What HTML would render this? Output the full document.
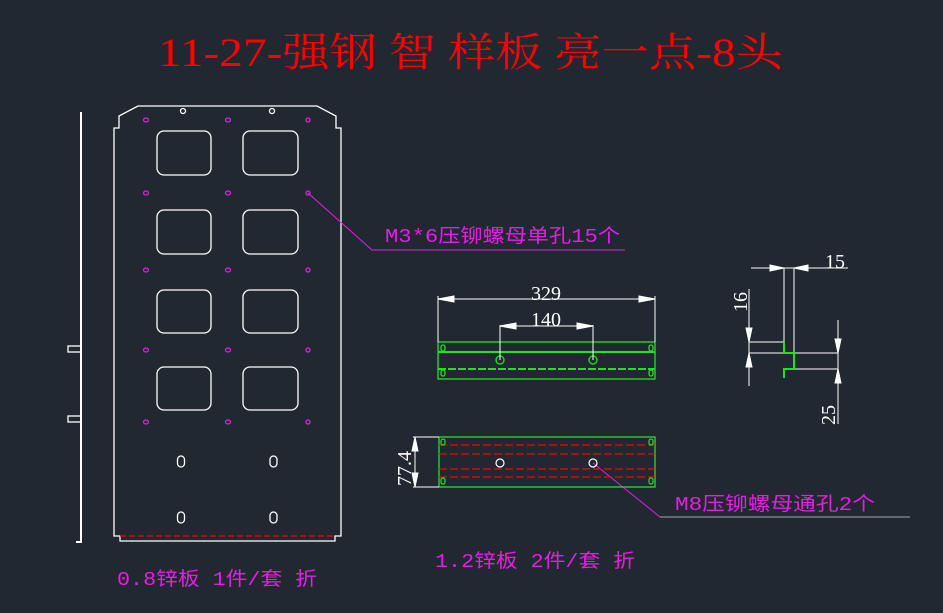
<!DOCTYPE html>
<html><head><meta charset="utf-8"><style>
html,body{margin:0;padding:0;background:#222831;}
svg{display:block}
text{font-family:"Liberation Serif","Noto Serif CJK SC",serif;}
.m{font-family:"Liberation Mono","Noto Sans CJK SC",monospace;fill:#e81ce8;font-size:19px;}
</style></head><body>
<svg width="943" height="613" viewBox="0 0 943 613" xmlns="http://www.w3.org/2000/svg">
<rect width="943" height="613" fill="#222831"/>
<text x="158" y="66" font-size="40" fill="#ff0000" textLength="625" lengthAdjust="spacingAndGlyphs">11-27-强钢 智 样板 亮一点-8头</text>

<!-- left panel -->
<g fill="none" stroke="#fff" stroke-width="1.3">
<path d="M114,536 L114,128 L119,128 L119,116 L138,106 L317,106 L336,116 L336,128 L341,128 L341,536 L335,536 L335,541 L120,541 L120,536 Z"/>
<circle cx="183" cy="111" r="2.5"/><circle cx="272" cy="111" r="2.5"/>
<rect x="157" y="131" width="54" height="44" rx="7"/><rect x="243" y="131" width="55" height="44" rx="7"/>
<rect x="157" y="210" width="54" height="44" rx="7"/><rect x="243" y="210" width="55" height="44" rx="7"/>
<rect x="157" y="290" width="54" height="43" rx="7"/><rect x="243" y="290" width="55" height="43" rx="7"/>
<rect x="157" y="367" width="54" height="43" rx="7"/><rect x="243" y="367" width="55" height="43" rx="7"/>
<rect x="177.5" y="456" width="7" height="11" rx="3.5"/><rect x="270" y="456" width="7" height="11" rx="3.5"/>
<rect x="177.5" y="512" width="7" height="11" rx="3.5"/><rect x="270" y="512" width="7" height="11" rx="3.5"/>
<path d="M81,112 L81,542 L76,542" stroke-width="2"/>
<rect x="68" y="346" width="13" height="6"/><rect x="68" y="416" width="13" height="6"/>
</g>
<line x1="120" y1="536" x2="335" y2="536" stroke="#f00" stroke-width="1.3" stroke-dasharray="6,3"/>
<g fill="none" stroke="#e81ce8" stroke-width="1.3">
<ellipse cx="146" cy="120" rx="2.5" ry="2"/><ellipse cx="228" cy="120" rx="2.5" ry="2"/><ellipse cx="308" cy="120" rx="2" ry="2"/>
<ellipse cx="146" cy="193" rx="2.5" ry="2"/><ellipse cx="228" cy="193" rx="2.5" ry="2"/><ellipse cx="308" cy="193" rx="2" ry="2"/>
<ellipse cx="146" cy="270" rx="2.5" ry="2"/><ellipse cx="228" cy="270" rx="2.5" ry="2"/><ellipse cx="308" cy="270" rx="2" ry="2"/>
<ellipse cx="146" cy="350" rx="2.5" ry="2"/><ellipse cx="228" cy="350" rx="2.5" ry="2"/><ellipse cx="308" cy="350" rx="2" ry="2"/>
<ellipse cx="146" cy="422" rx="2.5" ry="2"/><ellipse cx="228" cy="422" rx="2.5" ry="2"/><ellipse cx="308" cy="422" rx="2" ry="2"/>
<path d="M308,193 L372,250 L625,250" stroke-width="1"/>
<path d="M593,463 L660,517" stroke-width="1"/>
</g>
<line x1="660" y1="517" x2="910" y2="517" stroke="#9aa" stroke-width="1"/>
<text class="m" x="385" y="242" textLength="235" lengthAdjust="spacingAndGlyphs">M3*6压铆螺母单孔15个</text>
<text class="m" x="675" y="510" textLength="200" lengthAdjust="spacingAndGlyphs">M8压铆螺母通孔2个</text>
<text class="m" x="117" y="585" textLength="200" lengthAdjust="spacingAndGlyphs">0.8锌板 1件/套 折</text>
<text class="m" x="435" y="567" textLength="200" lengthAdjust="spacingAndGlyphs">1.2锌板 2件/套 折</text>

<!-- middle top -->
<g fill="none" stroke="#22e022" stroke-width="1.3">
<rect x="438" y="342" width="217" height="37"/>
<line x1="438" y1="352" x2="655" y2="352" stroke-width="2"/>
<line x1="438" y1="369" x2="655" y2="369" stroke-width="2" stroke-dasharray="8,2"/>
<circle cx="500" cy="360" r="4"/><circle cx="593" cy="360" r="4"/>
<rect x="441" y="345" width="4" height="6" rx="2"/><rect x="649" y="345" width="4" height="6" rx="2"/>
<rect x="441" y="370" width="4" height="6" rx="2"/><rect x="649" y="370" width="4" height="6" rx="2"/>
</g>
<g stroke="#fff" stroke-width="1" fill="#fff">
<line x1="438" y1="296" x2="438" y2="342"/><line x1="655" y1="296" x2="655" y2="342"/>
<line x1="438" y1="299" x2="655" y2="299"/>
<path d="M438,299 l16,-3 v6z M655,299 l-16,-3 v6z"/>
<line x1="500" y1="325" x2="500" y2="360"/><line x1="593" y1="325" x2="593" y2="360"/>
<line x1="500" y1="326" x2="593" y2="326"/>
<path d="M500,326 l16,-3 v6z M593,326 l-16,-3 v6z"/>
</g>
<text x="546" y="300" font-size="20" fill="#fff" text-anchor="middle">329</text>
<text x="546" y="326" font-size="20" fill="#fff" text-anchor="middle">140</text>

<!-- middle bottom -->
<rect x="439" y="437" width="216" height="50" fill="none" stroke="#22e022" stroke-width="1.3"/>
<g stroke="#f00" stroke-width="1.3" stroke-dasharray="8,3">
<line x1="439" y1="445" x2="655" y2="445"/><line x1="439" y1="454" x2="655" y2="454"/>
<line x1="439" y1="469" x2="655" y2="469"/><line x1="439" y1="477" x2="655" y2="477"/>
</g>
<g fill="none" stroke="#22e022" stroke-width="1.2">
<rect x="441" y="439" width="4" height="6" rx="2"/><rect x="649" y="439" width="4" height="6" rx="2"/>
<rect x="441" y="478" width="4" height="6" rx="2"/><rect x="649" y="478" width="4" height="6" rx="2"/>
</g>
<g fill="none" stroke="#fff" stroke-width="1.2"><circle cx="500" cy="463" r="4"/><circle cx="593" cy="463" r="4"/></g>
<g stroke="#fff" stroke-width="1" fill="#fff">
<line x1="413" y1="437" x2="439" y2="437"/><line x1="413" y1="487" x2="439" y2="487"/>
<line x1="415" y1="437" x2="415" y2="487"/>
<path d="M415,437 l-3,14 h6z M415,487 l-3,-14 h6z"/>
</g>
<text transform="translate(411,486) rotate(-90)" font-size="20" fill="#fff">77.4</text>

<!-- right section -->
<g stroke="#fff" stroke-width="1" fill="#fff">
<line x1="784" y1="268" x2="784" y2="342"/><line x1="794" y1="268" x2="794" y2="353"/>
<line x1="751" y1="268" x2="848" y2="268"/>
<path d="M784,268 l-14,-3 v6z M794,268 l14,-3 v6z"/>
<line x1="749" y1="342" x2="784" y2="342"/><line x1="749" y1="353" x2="838" y2="353"/><line x1="794" y1="369" x2="838" y2="369"/>
<line x1="749" y1="289" x2="749" y2="386"/>
<path d="M749,342 l-3,-14 h6z M749,353 l-3,14 h6z"/>
<line x1="838" y1="320" x2="838" y2="424"/>
<path d="M838,353 l-3,-14 h6z M838,369 l-3,14 h6z"/>
</g>
<path d="M784,342 L784,353 L794,353 L794,369 L784,369 L784,378" fill="none" stroke="#22e022" stroke-width="2"/>
<text x="825" y="268" font-size="20" fill="#fff">15</text>
<text transform="translate(747,312) rotate(-90)" font-size="20" fill="#fff">16</text>
<text transform="translate(835,425) rotate(-90)" font-size="20" fill="#fff">25</text>
</svg>
</body></html>
